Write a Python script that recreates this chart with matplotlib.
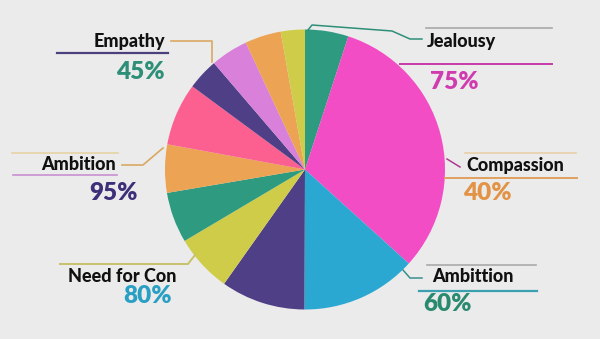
import matplotlib.pyplot as plt

# slices, clockwise from 12 o'clock (share of the circle, in degrees)
slice_share = [18, 114, 48, 35, 24, 21, 20, 26, 13, 15.5, 15, 10]
slice_colors = ['#2e9a80', '#f24dc4', '#2aa8d2', '#4e3f86', '#cfcc4a', '#2e9a80',
                '#eca353', '#fb6090', '#4e3f86', '#d880da', '#eca353', '#cfcc4a']

# callouts
names = ['Empathy', 'Ambition', 'Need for Con', 'Jealousy', 'Compassion', 'Ambittion']
percents = ['45%', '95%', '80%', '75%', '40%', '60%']

plt.rcParams['font.family'] = ['Lato', 'DejaVu Sans']

fig = plt.figure(figsize=(6, 3.39), dpi=100)
fig.patch.set_facecolor('#ebebeb')
ax = fig.add_axes([0, 0, 1, 1])
ax.set_facecolor('#ebebeb')

# pixel-style coordinates: y grows downward, so counterclock=True reads clockwise
ax.pie(slice_share, colors=slice_colors, startangle=-90, counterclock=True,
       center=(305, 169.5), radius=140, wedgeprops=dict(linewidth=0))
ax.set_xlim(0, 600)
ax.set_ylim(339, 0)
ax.set_aspect('equal')
ax.axis('off')

name_kw = dict(fontsize=13, fontweight='black', color='#111111', va='center')
pct_kw = dict(fontsize=17.5, fontweight='heavy', va='center')

# left side
ax.text(165, 41, names[0], ha='right', **name_kw)
ax.text(165, 72, percents[0], ha='right', color='#2e8f78', **pct_kw)
ax.plot([57, 168], [53, 53], color='#4b3f7c', lw=1.6)
ax.plot([171, 212, 212], [41, 41, 62], color='#d9a963', lw=1.2)

ax.text(116, 165, names[1], ha='right', **name_kw)
ax.text(113, 193, percents[1], ha='center', color='#3d2f78', **pct_kw)
ax.plot([12, 118], [153, 153], color='#e6d4a6', lw=1.2)
ax.plot([13, 117], [175, 175], color='#c990d3', lw=1.2)
ax.plot([122, 143, 163], [165, 165, 148], color='#d9a963', lw=1.2)

ax.text(176, 277, names[2], ha='right', **name_kw)
ax.text(172, 296, percents[2], ha='right', color='#2a9fc4', **pct_kw)
ax.plot([60, 188, 195], [264, 264, 255], color='#c7c16a', lw=1.4)

# right side
ax.text(427, 41, names[3], ha='left', **name_kw)
ax.text(430, 82, percents[3], ha='left', color='#d03cb0', **pct_kw)
ax.plot([426, 552], [28, 28], color='#a8a8a8', lw=1.2)
ax.plot([400, 552], [64, 64], color='#c93aa8', lw=1.4)
ax.plot([422, 410, 392, 312, 308], [39, 39, 31, 25, 30], color='#2e8f78', lw=1.1)

ax.text(466, 165, names[4], ha='left', **name_kw)
ax.text(463, 193, percents[4], ha='left', color='#e39345', **pct_kw)
ax.plot([465, 576], [153, 153], color='#e9cfa8', lw=1.2)
ax.plot([445, 577], [178, 178], color='#e0a060', lw=1.4)
ax.plot([447, 460], [159, 167], color='#b03a90', lw=1.1)

ax.text(432, 276, names[5], ha='left', **name_kw)
ax.text(423, 304, percents[5], ha='left', color='#2a8a70', **pct_kw)
ax.plot([427, 536], [265, 265], color='#aaaaaa', lw=1.2)
ax.plot([419, 537], [291, 291], color='#3a9fae', lw=1.6)
ax.plot([403, 410, 422], [270, 278, 278], color='#3a8f90', lw=1.1)

fig.savefig('out.png', dpi=100, facecolor=fig.get_facecolor())
